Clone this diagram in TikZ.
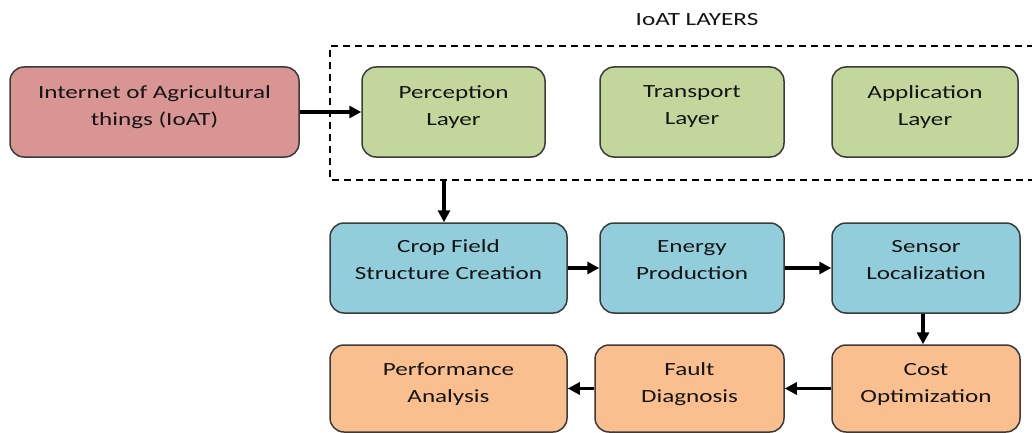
\documentclass[tikz,border=0pt]{standalone}
\usepackage{fontspec}
\setmainfont{Carlito}[FakeStretch=1.35]
\usetikzlibrary{arrows.meta}
\definecolor{redfill}{HTML}{D99594}
\definecolor{greenfill}{HTML}{C3D69B}
\definecolor{bluefill}{HTML}{92CDDC}
\definecolor{orangefill}{HTML}{FABF8F}
\definecolor{edgegray}{HTML}{3A3A3A}
\definecolor{txt}{HTML}{141414}
\tikzset{
  box/.style={draw=edgegray, line width=1.5pt, rounded corners=14pt, inner sep=0pt},
  lbl/.style={align=center, text=txt, inner sep=0pt, font=\fontsize{18.6}{27}\selectfont},
  arr/.style={line width=3.5pt, -{Triangle[length=12pt,width=12pt]}},
  dashbox/.style={line width=1.4pt, dash pattern=on 7pt off 5pt}
}
\begin{document}
\begin{tikzpicture}[x=1pt,y=-1pt]
\useasboundingbox (0,0) rectangle (1032,433);
% title
\node[lbl] (title) at (697,20) {IoAT LAYERS};
% dashed group (right side runs past the edge)
\draw[dashbox] (1034,46) -- (330,46) -- (330,180) -- (1034,180);
\coordinate (dashbot) at (444,180);
% boxes
\node[box, fill=redfill, minimum width=289pt, minimum height=90pt] (ioat) at (154.5,112) {};
\node[box, fill=greenfill, minimum width=183pt, minimum height=90pt] (perc) at (453.5,112) {};
\node[box, fill=greenfill, minimum width=184pt, minimum height=90pt] (trans) at (692,112) {};
\node[box, fill=greenfill, minimum width=186pt, minimum height=90pt] (appl) at (925,112) {};
\node[box, fill=bluefill, minimum width=237pt, minimum height=90pt] (crop) at (448.5,268) {};
\node[box, fill=bluefill, minimum width=184pt, minimum height=90pt] (energy) at (692,268) {};
\node[box, fill=bluefill, minimum width=188pt, minimum height=90pt] (sensor) at (926,268) {};
\node[box, fill=orangefill, minimum width=237pt, minimum height=87pt] (perf) at (448.5,388.5) {};
\node[box, fill=orangefill, minimum width=189pt, minimum height=87pt] (fault) at (689.5,388.5) {};
\node[box, fill=orangefill, minimum width=188pt, minimum height=87pt] (cost) at (926,388.5) {};
% labels
\node[lbl] (tioat) at ([yshift=5pt]ioat.center) {Internet of Agricultural\\things (IoAT)};
\node[lbl] (tperc) at ([yshift=5pt]perc.center) {Perception\\Layer};
\node[lbl] (ttrans) at ([yshift=5pt]trans.center) {Transport\\Layer};
\node[lbl] (tappl) at ([yshift=5pt]appl.center) {Application\\Layer};
\node[lbl] (tcrop) at ([yshift=8pt]crop.center) {Crop Field\\Structure Creation};
\node[lbl] (tenergy) at ([yshift=8pt]energy.center) {Energy\\Production};
\node[lbl] (tsensor) at ([yshift=8pt]sensor.center) {Sensor\\Localization};
\node[lbl] (tperf) at ([yshift=4pt]perf.center) {Performance\\Analysis};
\node[lbl] (tfault) at ([yshift=4pt]fault.center) {Fault\\Diagnosis};
\node[lbl] (tcost) at ([yshift=4pt]cost.center) {Cost\\Optimization};
% arrows
\draw[arr] (ioat.east) -- (perc.west);
\draw[arr] (dashbot) -- (dashbot |- crop.north);
\draw[arr] (crop.east) -- (energy.west);
\draw[arr] (energy.east) -- (sensor.west);
\draw[arr] ([xshift=-3pt]sensor.south) -- ([xshift=-3pt]cost.north);
\draw[arr] (cost.west) -- (fault.east);
\draw[arr] (fault.west) -- (perf.east);
\end{tikzpicture}
\end{document}
